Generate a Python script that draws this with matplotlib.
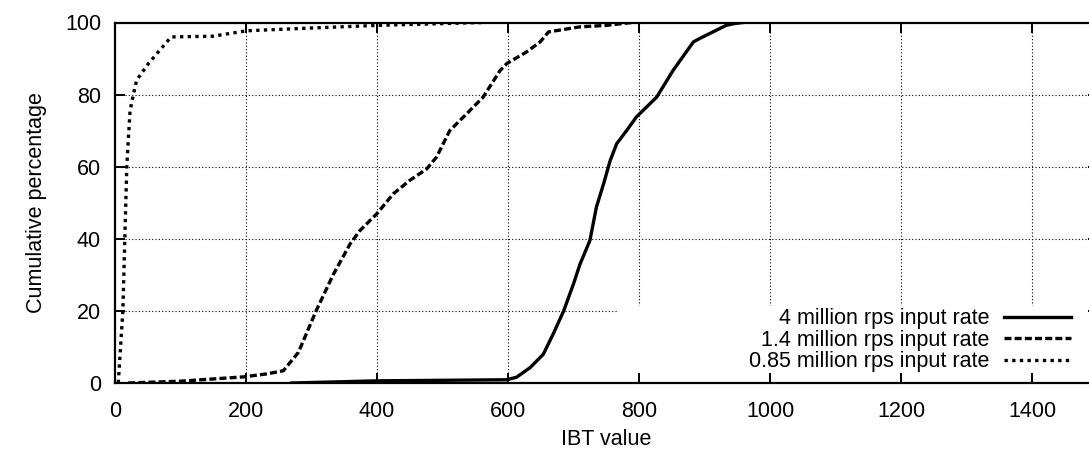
import matplotlib
matplotlib.use("Agg")
import matplotlib.pyplot as plt
from matplotlib.patches import Rectangle

plt.rcParams["font.family"] = ["Liberation Sans", "DejaVu Sans"]

# 4 million rps input rate
ibt_4m = [270, 400, 598, 613, 634, 654, 669, 685, 700, 710, 725, 735, 746,
          756, 766, 781, 796, 827, 852, 883, 893, 933, 945, 959]
pct_4m = [0.0, 0.6, 0.9, 1.6, 4.3, 8.0, 13.6, 20.0, 27.5, 33.0, 39.5, 48.8,
          55.3, 61.7, 66.4, 70.0, 73.8, 79.3, 86.7, 94.6, 95.6, 99.2, 99.7, 100]

# 1.4 million rps input rate
ibt_14m = [20, 100, 196, 231, 257, 280, 307, 333, 359, 374, 400, 425, 450,
           476, 491, 511, 537, 562, 588, 598, 628, 649, 662, 710, 750, 789]
pct_14m = [0.0, 0.5, 1.7, 2.5, 3.4, 8.5, 20.0, 30.0, 38.6, 42.3, 47.0, 52.5,
           56.2, 59.4, 62.7, 70.0, 74.7, 79.3, 86.7, 88.6, 91.8, 94.6, 97.4,
           98.8, 99.2, 100]

# 0.85 million rps input rate
ibt_085m = [5, 12, 15, 18, 20, 23, 28, 33, 51, 66, 79, 86, 150, 180, 201,
            277, 400, 500, 560]
pct_085m = [0.0, 20.0, 40.0, 60.0, 66.5, 75.6, 80.0, 84.0, 88.6, 91.8, 94.6,
             96.0, 96.2, 97.1, 97.7, 98.3, 99.2, 99.7, 100]

x_ticks = [0, 200, 400, 600, 800, 1000, 1200, 1400]
y_ticks = [0, 20, 40, 60, 80, 100]

fs = 15.5

fig = plt.figure(figsize=(10.89, 4.53), dpi=100)
# right spine falls just outside the picture, as in the cropped original
ax = fig.add_axes([115 / 1089, (453 - 383) / 453, 982.5 / 1089, 360.5 / 453])

# dotted grid, drawn by hand so the key box can hide it
grid_style = dict(color="black", lw=0.8, linestyle=(0, (1, 2)), zorder=1)
for v in x_ticks[1:]:
    ax.axvline(v, **grid_style)
for v in y_ticks[1:-1]:
    ax.axhline(v, **grid_style)

# opaque key area
ax.add_patch(Rectangle((0.512, 0.0), 0.48, 0.214, transform=ax.transAxes,
                       facecolor="white", edgecolor="none", zorder=1.5))

ax.plot(ibt_4m, pct_4m, color="black", lw=2.4, solid_joinstyle="round",
        label="4 million rps input rate", zorder=3)
ax.plot(ibt_14m, pct_14m, color="black", lw=2.4, linestyle=(0, (2.1, 0.95)),
        dash_capstyle="butt", label="1.4 million rps input rate", zorder=3)
ax.plot(ibt_085m, pct_085m, color="black", lw=2.4, linestyle=(0, (1, 1.3)),
        dash_capstyle="butt", label="0.85 million rps input rate", zorder=3)

ax.set_xlim(0, 1500)
ax.set_ylim(0, 100)
ax.set_xticks(x_ticks)
ax.set_yticks(y_ticks)
ax.tick_params(direction="in", top=True, right=True, length=7, width=1.4,
               labelsize=fs, colors="black")
ax.tick_params(axis="x", pad=13)
ax.tick_params(axis="y", pad=10)
for s in ax.spines.values():
    s.set_linewidth(1.6)

ax.set_xlabel("IBT value", fontsize=fs, labelpad=5)
ax.set_ylabel("Cumulative percentage", fontsize=fs, labelpad=13)

leg = ax.legend(loc="lower right", bbox_to_anchor=(0.982, 0.006),
                frameon=False, markerfirst=False, fontsize=fs,
                handlelength=3.1, handletextpad=0.7, labelspacing=0.02,
                borderpad=0.4, borderaxespad=0)
for t in leg.get_texts():
    t.set_ha("right")
leg._legend_box.align = "right"
leg.set_zorder(4)

fig.savefig("out.png", dpi=100)
